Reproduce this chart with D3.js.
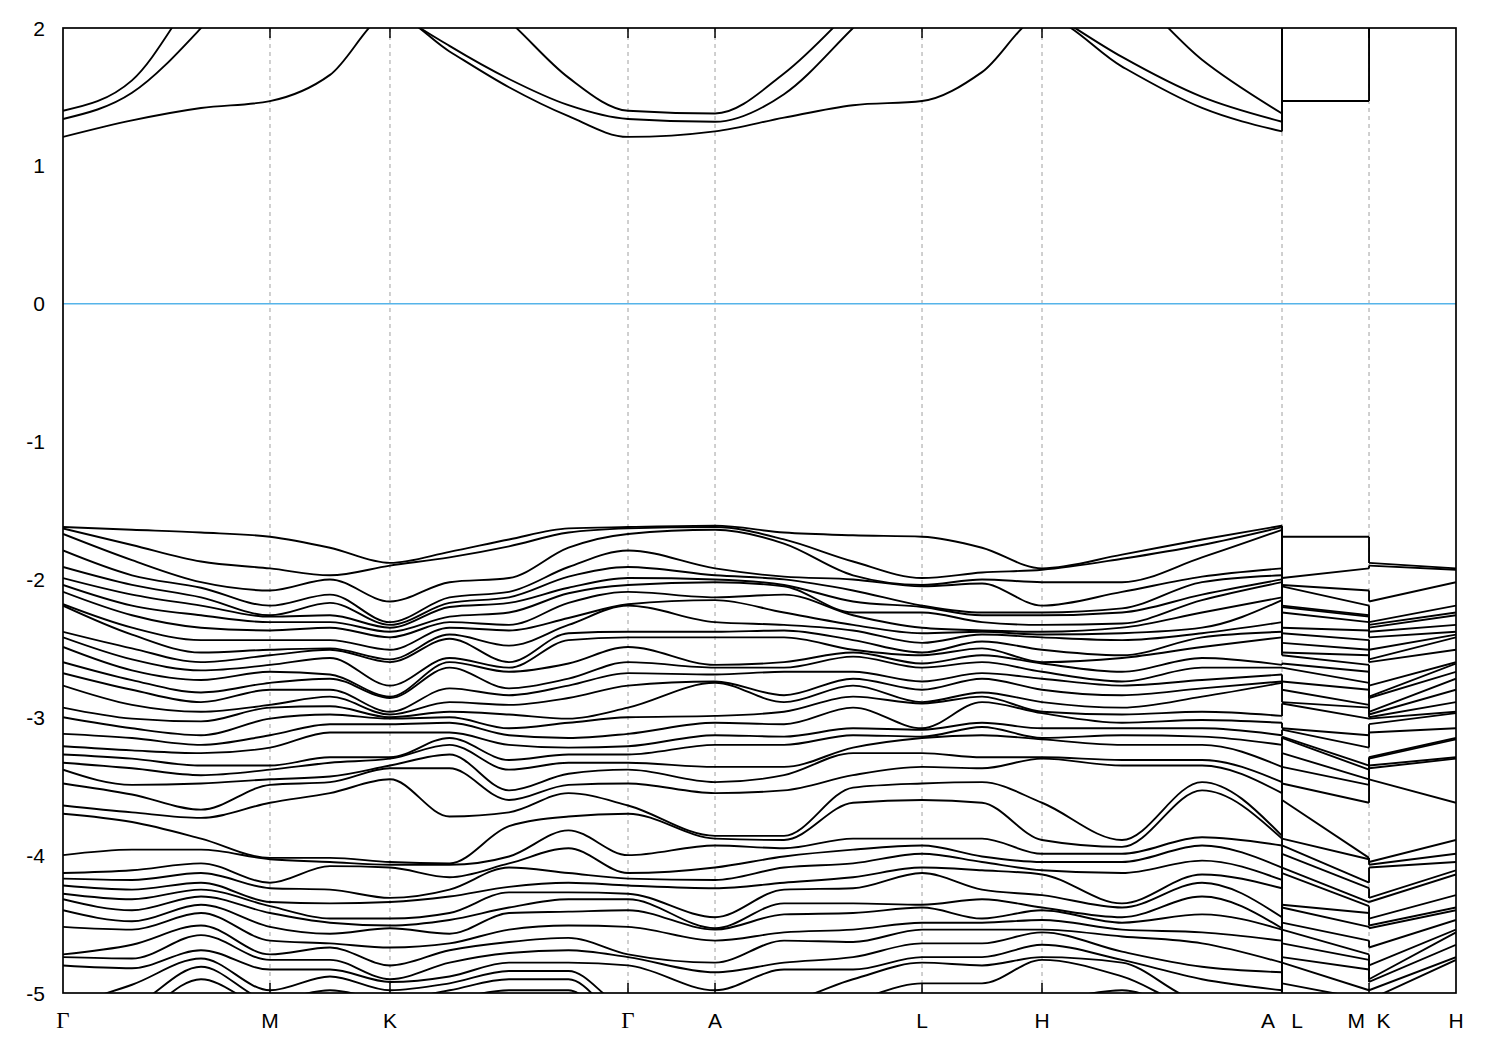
<!DOCTYPE html>
<html><head><meta charset="utf-8">
<script src="https://cdn.jsdelivr.net/npm/d3@7"></script>
<style>body{margin:0;background:#fff}</style>
</head><body><svg id="c" width="1500" height="1050"></svg>
<script>
// High-symmetry points along the path (k distance) and their labels
const kTicks  = [0, 0.4458, 0.7042, 1.2168, 1.4042, 1.8500, 2.1084, 2.6253, 2.8127, 3.0];
const kLabels = ["Γ", "M", "K", "Γ", "A", "L", "H", "A   L", "M  K", "H"];
const yTicks  = [2, 1, 0, -1, -2, -3, -4, -5];

// Band energies (eV) at each sampled k-point: 3 conduction bands, then 40 valence bands (sorted, high to low)
const E_G   = [1.40,1.34,1.21, -1.62,-1.63,-1.67,-1.79,-1.91,-1.99,-2.04,-2.09,-2.18,-2.19,-2.38,-2.42,-2.49,-2.60,-2.68,-2.77,-2.93,-3.00,-3.12,-3.21,-3.27,-3.33,-3.38,-3.48,-3.64,-3.70,-4.00,-4.13,-4.17,-4.22,-4.28,-4.32,-4.40,-4.52,-4.72,-4.74,-4.80,-5.10,-5.20,-5.30];
const E_GM1 = [1.62,1.53,1.33, -1.64,-1.75,-1.86,-1.97,-2.04,-2.11,-2.19,-2.26,-2.35,-2.40,-2.50,-2.58,-2.66,-2.73,-2.80,-2.91,-3.01,-3.08,-3.15,-3.24,-3.30,-3.37,-3.49,-3.56,-3.69,-3.76,-3.96,-4.11,-4.18,-4.25,-4.32,-4.40,-4.48,-4.54,-4.65,-4.75,-4.82,-4.94,-5.10,-5.20];
const E_GM2 = [2.30,2.00,1.42, -1.66,-1.87,-2.02,-2.06,-2.13,-2.19,-2.26,-2.35,-2.44,-2.53,-2.60,-2.66,-2.73,-2.82,-2.89,-2.96,-3.03,-3.13,-3.20,-3.26,-3.35,-3.42,-3.48,-3.67,-3.73,-3.88,-3.96,-4.06,-4.13,-4.20,-4.25,-4.30,-4.36,-4.42,-4.51,-4.58,-4.69,-4.75,-4.81,-4.90];
const E_M   = [2.80,2.60,1.47, -1.69,-1.92,-2.08,-2.19,-2.26,-2.27,-2.31,-2.37,-2.44,-2.51,-2.55,-2.62,-2.67,-2.75,-2.80,-2.91,-2.93,-3.01,-3.13,-3.22,-3.35,-3.38,-3.45,-3.49,-3.62,-4.02,-4.03,-4.20,-4.24,-4.34,-4.37,-4.42,-4.52,-4.62,-4.72,-4.76,-4.83,-4.98,-5.05,-5.10];
const E_MK1 = [2.70,2.55,1.66, -1.77,-1.97,-2.00,-2.11,-2.17,-2.26,-2.31,-2.35,-2.44,-2.50,-2.51,-2.57,-2.69,-2.72,-2.80,-2.85,-2.92,-2.98,-3.05,-3.11,-3.29,-3.33,-3.43,-3.47,-3.55,-4.02,-4.05,-4.08,-4.25,-4.35,-4.46,-4.49,-4.57,-4.64,-4.67,-4.76,-4.83,-4.88,-4.98,-5.05];
const E_K   = [2.30,2.15,2.10, -1.88,-1.90,-2.16,-2.31,-2.33,-2.35,-2.38,-2.42,-2.51,-2.58,-2.60,-2.77,-2.85,-2.86,-2.96,-2.98,-3.00,-3.01,-3.05,-3.11,-3.29,-3.30,-3.35,-3.37,-3.45,-4.05,-4.07,-4.09,-4.31,-4.34,-4.46,-4.51,-4.53,-4.67,-4.80,-4.90,-4.92,-4.98,-5.05,-5.12];
const E_KG1 = [2.40,1.87,1.83, -1.80,-1.84,-2.02,-2.13,-2.17,-2.20,-2.27,-2.31,-2.35,-2.40,-2.43,-2.57,-2.60,-2.64,-2.79,-2.89,-2.96,-3.00,-3.04,-3.11,-3.15,-3.20,-3.27,-3.37,-3.72,-4.06,-4.07,-4.16,-4.25,-4.30,-4.42,-4.47,-4.57,-4.64,-4.69,-4.78,-4.88,-4.93,-4.98,-5.05];
const E_KG2 = [2.05,1.63,1.57, -1.71,-1.76,-1.99,-2.09,-2.13,-2.17,-2.24,-2.33,-2.37,-2.48,-2.60,-2.64,-2.67,-2.79,-2.84,-2.91,-2.98,-3.08,-3.13,-3.20,-3.31,-3.38,-3.53,-3.60,-3.69,-3.79,-4.01,-4.06,-4.09,-4.23,-4.27,-4.38,-4.42,-4.54,-4.63,-4.71,-4.78,-4.84,-4.90,-4.98];
const E_KG3 = [1.64,1.44,1.36, -1.63,-1.66,-1.77,-1.91,-1.98,-2.06,-2.10,-2.17,-2.28,-2.33,-2.39,-2.44,-2.61,-2.72,-2.77,-2.86,-3.01,-3.04,-3.15,-3.22,-3.27,-3.33,-3.41,-3.49,-3.55,-3.72,-3.82,-3.95,-4.13,-4.20,-4.27,-4.32,-4.41,-4.51,-4.60,-4.69,-4.78,-4.84,-4.90,-4.98];
const E_A   = [1.38,1.32,1.25, -1.61,-1.62,-1.64,-1.92,-1.97,-2.00,-2.02,-2.13,-2.15,-2.31,-2.38,-2.42,-2.62,-2.64,-2.69,-2.74,-2.75,-2.99,-3.04,-3.13,-3.20,-3.36,-3.47,-3.55,-3.86,-3.88,-3.93,-4.09,-4.18,-4.24,-4.45,-4.53,-4.54,-4.62,-4.78,-4.85,-4.98,-5.05,-5.10,-5.15];
const E_AL1 = [1.67,1.52,1.35, -1.66,-1.71,-1.74,-1.98,-2.00,-2.04,-2.05,-2.11,-2.24,-2.33,-2.37,-2.42,-2.60,-2.64,-2.67,-2.84,-2.89,-2.96,-3.05,-3.14,-3.20,-3.36,-3.42,-3.53,-3.86,-3.89,-3.95,-4.01,-4.09,-4.20,-4.25,-4.35,-4.43,-4.56,-4.62,-4.78,-4.83,-5.05,-5.10,-5.15];
const E_AL2 = [2.15,2.00,1.44, -1.68,-1.87,-1.97,-2.00,-2.08,-2.16,-2.24,-2.26,-2.33,-2.37,-2.44,-2.51,-2.53,-2.56,-2.67,-2.72,-2.77,-2.85,-2.93,-3.08,-3.13,-3.22,-3.26,-3.42,-3.51,-3.62,-3.88,-3.96,-4.06,-4.16,-4.24,-4.35,-4.42,-4.54,-4.63,-4.74,-4.83,-4.90,-5.05,-5.10];
const E_L   = [2.70,2.50,1.47, -1.69,-1.99,-2.04,-2.05,-2.19,-2.20,-2.24,-2.35,-2.39,-2.46,-2.53,-2.55,-2.61,-2.64,-2.74,-2.80,-2.89,-2.90,-3.08,-3.09,-3.14,-3.15,-3.26,-3.36,-3.48,-3.60,-3.88,-3.93,-3.99,-4.09,-4.13,-4.36,-4.38,-4.49,-4.54,-4.64,-4.74,-4.78,-4.93,-5.05];
const E_LH1 = [2.60,2.40,1.68, -1.77,-1.95,-2.00,-2.03,-2.24,-2.26,-2.31,-2.37,-2.38,-2.40,-2.45,-2.50,-2.55,-2.60,-2.68,-2.72,-2.82,-2.85,-2.89,-3.04,-3.07,-3.13,-3.29,-3.37,-3.47,-3.62,-3.88,-4.01,-4.05,-4.11,-4.25,-4.32,-4.46,-4.49,-4.54,-4.64,-4.74,-4.80,-4.93,-5.05];
const E_H   = [2.50,2.15,2.08, -1.92,-1.93,-2.02,-2.19,-2.24,-2.26,-2.33,-2.38,-2.40,-2.42,-2.51,-2.60,-2.61,-2.67,-2.72,-2.80,-2.89,-2.96,-2.97,-3.08,-3.15,-3.16,-3.29,-3.30,-3.62,-3.89,-3.99,-4.05,-4.11,-4.14,-4.29,-4.38,-4.40,-4.47,-4.54,-4.56,-4.65,-4.74,-4.76,-5.05];
const E_HA1 = [2.30,1.79,1.72, -1.82,-1.85,-2.02,-2.09,-2.21,-2.24,-2.32,-2.35,-2.39,-2.44,-2.55,-2.57,-2.67,-2.74,-2.77,-2.84,-2.93,-2.98,-3.04,-3.08,-3.13,-3.20,-3.31,-3.35,-3.89,-3.94,-3.99,-4.05,-4.13,-4.35,-4.38,-4.45,-4.49,-4.54,-4.59,-4.70,-4.76,-4.78,-4.88,-4.98];
const E_HA2 = [1.77,1.50,1.42, -1.71,-1.75,-1.84,-1.98,-2.02,-2.11,-2.15,-2.24,-2.35,-2.39,-2.42,-2.49,-2.57,-2.64,-2.73,-2.79,-2.85,-2.96,-3.02,-3.08,-3.14,-3.20,-3.31,-3.35,-3.47,-3.53,-3.87,-3.93,-4.04,-4.14,-4.20,-4.30,-4.43,-4.56,-4.64,-4.81,-4.90,-5.05,-5.10,-5.15];

// Path through the zone: segment between tick a and tick b, sampled by these k-point arrays
const route = [
  {a:0, b:1, cols:[E_G, E_GM1, E_GM2, E_M]},
  {a:1, b:2, cols:[E_M, E_MK1, E_K]},
  {a:2, b:3, cols:[E_K, E_KG1, E_KG2, E_KG3, E_G]},
  {a:3, b:4, cols:[E_G, E_A]},
  {a:4, b:5, cols:[E_A, E_AL1, E_AL2, E_L]},
  {a:5, b:6, cols:[E_L, E_LH1, E_H]},
  {a:6, b:7, cols:[E_H, E_HA1, E_HA2, E_A]},
  {a:7, b:8, cols:[E_L, E_M]},
  {a:8, b:9, cols:[E_K, E_H]}
];

const W = 1500, H = 1050;
const m = {l:63, r:1456, t:28, b:993};
const x = d3.scaleLinear().domain([kTicks[0], kTicks[kTicks.length-1]]).range([m.l, m.r]);
const y = d3.scaleLinear().domain([-5, 2]).range([m.b, m.t]);

const svg = d3.select('#c');
svg.append('rect').attr('width', W).attr('height', H).attr('fill', '#fff');
svg.append('defs').append('clipPath').attr('id', 'plot')
  .append('rect').attr('x', m.l).attr('y', m.t).attr('width', m.r - m.l).attr('height', m.b - m.t);

// vertical dashed grid lines at interior high-symmetry points
svg.append('g').selectAll('line').data(kTicks.slice(1, -1)).join('line')
  .attr('x1', d => x(d)).attr('x2', d => x(d)).attr('y1', m.t).attr('y2', m.b)
  .attr('stroke', '#a0a0a0').attr('stroke-width', 1).attr('stroke-dasharray', '4,4');

// Fermi level
svg.append('line').attr('x1', m.l).attr('x2', m.r).attr('y1', y(0)).attr('y2', y(0))
  .attr('stroke', '#56b4e9').attr('stroke-width', 1.5);

// build continuous chains of sampled points
const chains = [];
let cur = null, lastArr = null;
route.forEach(seg => {
  const n = seg.cols.length;
  seg.cols.forEach((arr, j) => {
    const k = kTicks[seg.a] + (kTicks[seg.b] - kTicks[seg.a]) * j / (n - 1);
    if (j === 0) {
      if (cur && lastArr === arr) return;
      cur = []; chains.push(cur);
    }
    cur.push({k, arr});
    lastArr = arr;
  });
});

const nBands = E_G.length;
const gb = svg.append('g').attr('clip-path', 'url(#plot)')
  .attr('fill', 'none').attr('stroke', '#000').attr('stroke-width', 1.9)
  .attr('stroke-linejoin', 'round');
for (let i = 0; i < nBands; i++) {
  const line = d3.line().x(d => x(d.k)).y(d => y(d.arr[i])).curve(d3.curveMonotoneX);
  chains.forEach((ch, c) => {
    gb.append('path').attr('d', line(ch));
    if (c < chains.length - 1) {
      const last = ch[ch.length - 1], next = chains[c + 1][0];
      gb.append('line').attr('x1', x(last.k)).attr('x2', x(next.k))
        .attr('y1', y(last.arr[i])).attr('y2', y(next.arr[i]));
    }
  });
}

// frame
svg.append('rect').attr('x', m.l).attr('y', m.t).attr('width', m.r - m.l).attr('height', m.b - m.t)
  .attr('fill', 'none').attr('stroke', '#000').attr('stroke-width', 1.7);

// x tick marks (bottom and top, inward)
const tk = svg.append('g').attr('stroke', '#000').attr('stroke-width', 1.5);
kTicks.slice(1, -1).forEach(k => {
  tk.append('line').attr('x1', x(k)).attr('x2', x(k)).attr('y1', m.b).attr('y2', m.b - 10);
  tk.append('line').attr('x1', x(k)).attr('x2', x(k)).attr('y1', m.t).attr('y2', m.t + 10);
});

// x labels
svg.append('g').selectAll('text').data(kTicks).join('text')
  .attr('x', d => x(d)).attr('y', 1028)
  .attr('text-anchor', 'middle')
  .style('white-space', 'pre')
  .attr('font-family', (d, i) => kLabels[i] === 'Γ' ? "'Liberation Serif', serif" : "'Liberation Sans', Arial, sans-serif")
  .attr('font-size', (d, i) => kLabels[i] === 'Γ' ? 23 : 21)
  .attr('fill', '#000')
  .text((d, i) => kLabels[i]);

// y labels
svg.append('g').selectAll('text').data(yTicks).join('text')
  .attr('x', 45).attr('y', d => y(d) + 7.5)
  .attr('text-anchor', 'end')
  .attr('font-family', "'Liberation Sans', Arial, sans-serif").attr('font-size', 21)
  .attr('fill', '#000')
  .text(d => String(d));
</script></body></html>
